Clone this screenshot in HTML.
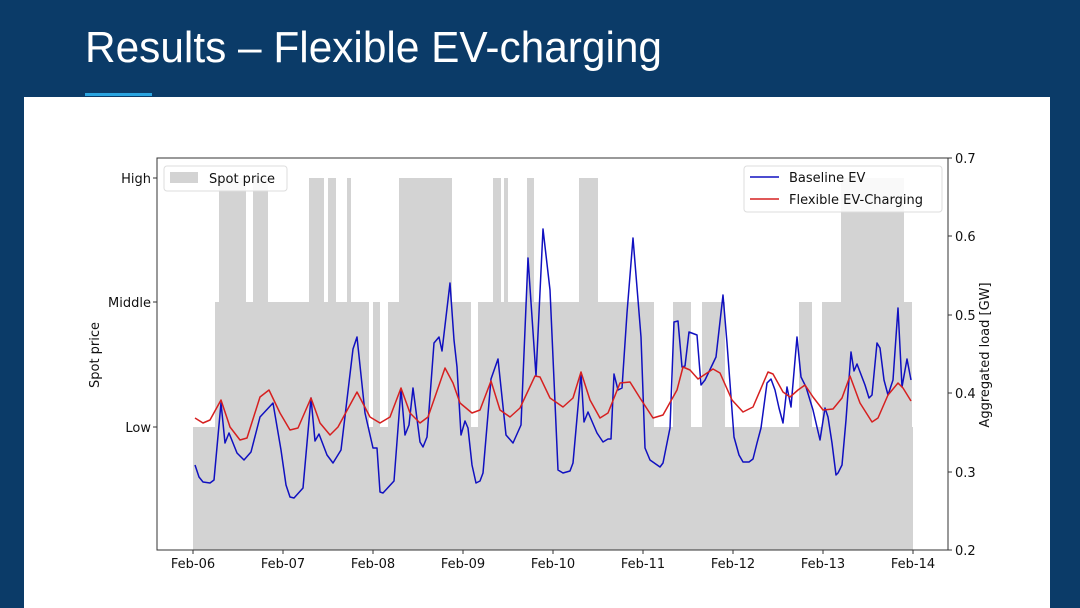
<!DOCTYPE html>
<html><head><meta charset="utf-8"><style>
html,body{margin:0;padding:0;background:#0b3b68;}
svg{display:block;}
text{font-family:"DejaVu Sans","Liberation Sans",sans-serif;}
</style></head><body>
<svg width="1080" height="608" viewBox="0 0 1080 608" xmlns="http://www.w3.org/2000/svg">
<rect x="0" y="0" width="1080" height="608" fill="#0b3b68"/>
<text x="85" y="62" fill="#fff" font-size="44" textLength="577" lengthAdjust="spacingAndGlyphs" style="font-family:'Liberation Sans',sans-serif">Results – Flexible EV-charging</text>
<rect x="85" y="93" width="67" height="3" fill="#2aa4e0"/>
<rect x="24" y="97" width="1026" height="511" fill="#fff"/>
<!-- bars -->
<g fill="#d3d3d3">
<rect x="193" y="427" width="720" height="123"/>
<rect x="215" y="302" width="154" height="125"/>
<rect x="373" y="302" width="7" height="125"/>
<rect x="388" y="302" width="83" height="125"/>
<rect x="478" y="302" width="176" height="125"/>
<rect x="673" y="302" width="18" height="125"/>
<rect x="702" y="302" width="23" height="125"/>
<rect x="799" y="302" width="13" height="125"/>
<rect x="822" y="302" width="90" height="125"/>
<rect x="219" y="178" width="27" height="124"/>
<rect x="253" y="178" width="15" height="124"/>
<rect x="309" y="178" width="15" height="124"/>
<rect x="328" y="178" width="8" height="124"/>
<rect x="347" y="178" width="4" height="124"/>
<rect x="399" y="178" width="53" height="124"/>
<rect x="493" y="178" width="8" height="124"/>
<rect x="504" y="178" width="4" height="124"/>
<rect x="527" y="178" width="7" height="124"/>
<rect x="579" y="178" width="19" height="124"/>
<rect x="841" y="178" width="63" height="124"/>
</g>
<polyline fill="none" stroke="#1010c0" stroke-width="1.5" stroke-linejoin="round" points="195,465 199,477 203,482 210,483 214,480 221,403 225,443 229,433 237,453 244,460 251,452 260,417 273,403 281,450 286,485 290,497 294,498 303,488 311,398 315,441 319,434 327,455 333,463 341,450 353,349 357,337 365,413 373,448 377,448 380,492 383,493 394,481 401,389 405,435 409,425 413,388 420,442 423,447 427,437 434,343 439,337 442,351 450,283 454,340 457,367 461,435 465,421 468,428 472,465 476,483 480,481 483,473 491,379 498,359 506,435 513,443 521,425 528,258 536,376 543,229 550,290 558,470 563,473 570,471 573,463 581,373 584,422 588,412 597,433 603,442 608,439 611,439 614,374 618,390 622,388 627,313 633,238 641,337 645,448 650,460 660,467 663,463 670,428 674,322 678,321 682,367 685,366 689,332 697,335 701,385 705,380 716,357 723,295 727,343 734,437 739,455 743,462 749,462 753,459 757,443 761,428 767,383 771,379 775,390 779,408 783,423 787,387 791,407 797,337 801,377 806,387 813,410 820,440 825,408 828,417 832,443 836,475 838,473 842,465 846,420 851,352 854,371 857,364 865,385 869,398 872,395 877,343 880,348 884,380 888,395 893,380 898,308 902,387 907,359 911,380"/>
<polyline fill="none" stroke="#d62020" stroke-width="1.5" stroke-linejoin="round" points="195,418 203,423 210,420 221,400 230,427 240,440 247,438 260,397 269,390 280,413 290,430 298,428 311,398 320,423 330,435 338,427 357,392 370,417 380,423 390,417 401,388 410,413 420,423 428,417 445,368 453,383 460,403 472,413 480,410 491,381 500,410 510,417 520,408 535,376 540,377 550,398 563,407 573,398 581,372 590,400 600,418 608,413 620,383 630,382 640,398 653,418 663,415 677,390 683,367 690,370 698,379 713,369 720,373 732,400 743,412 753,407 768,372 773,374 783,392 790,397 798,390 805,385 813,397 823,410 833,409 842,398 850,376 860,403 872,422 878,418 888,395 898,383 903,388 911,401"/>
<rect x="157" y="158" width="791" height="392" fill="none" stroke="#333" stroke-width="1"/>
<g stroke="#333" stroke-width="1">
<line x1="193" y1="550" x2="193" y2="554"/><line x1="283" y1="550" x2="283" y2="554"/><line x1="373" y1="550" x2="373" y2="554"/><line x1="463" y1="550" x2="463" y2="554"/><line x1="553" y1="550" x2="553" y2="554"/><line x1="643" y1="550" x2="643" y2="554"/><line x1="733" y1="550" x2="733" y2="554"/><line x1="823" y1="550" x2="823" y2="554"/><line x1="913" y1="550" x2="913" y2="554"/>
<line x1="153" y1="178" x2="157" y2="178"/><line x1="153" y1="302" x2="157" y2="302"/><line x1="153" y1="427" x2="157" y2="427"/>
<line x1="948" y1="158" x2="952" y2="158"/><line x1="948" y1="236" x2="952" y2="236"/><line x1="948" y1="315" x2="952" y2="315"/><line x1="948" y1="393" x2="952" y2="393"/><line x1="948" y1="472" x2="952" y2="472"/><line x1="948" y1="550" x2="952" y2="550"/>
</g>
<g font-size="13" fill="#111" text-anchor="middle">
<text x="193" y="568">Feb-06</text><text x="283" y="568">Feb-07</text><text x="373" y="568">Feb-08</text><text x="463" y="568">Feb-09</text><text x="553" y="568">Feb-10</text><text x="643" y="568">Feb-11</text><text x="733" y="568">Feb-12</text><text x="823" y="568">Feb-13</text><text x="913" y="568">Feb-14</text>
</g>
<g font-size="13" fill="#111" text-anchor="end">
<text x="151" y="183">High</text><text x="151" y="307">Middle</text><text x="151" y="432">Low</text>
</g>
<g font-size="13" fill="#111">
<text x="955" y="163">0.7</text><text x="955" y="241">0.6</text><text x="955" y="320">0.5</text><text x="955" y="398">0.4</text><text x="955" y="477">0.3</text><text x="955" y="555">0.2</text>
</g>
<text transform="translate(99,355) rotate(-90)" font-size="13" fill="#111" text-anchor="middle">Spot price</text>
<text transform="translate(989,355) rotate(-90)" font-size="13" fill="#111" text-anchor="middle">Aggregated load [GW]</text>
<rect x="164" y="166" width="123" height="25" rx="3" fill="#fff" fill-opacity="0.85" stroke="#ddd"/>
<rect x="170" y="172" width="28" height="11" fill="#d3d3d3"/>
<text x="209" y="183" font-size="13" fill="#111">Spot price</text>
<rect x="744" y="166" width="198" height="46" rx="3" fill="#fff" fill-opacity="0.85" stroke="#ddd"/>
<line x1="750" y1="177" x2="779" y2="177" stroke="#1010c0" stroke-width="1.5"/>
<line x1="750" y1="199" x2="779" y2="199" stroke="#d62020" stroke-width="1.5"/>
<text x="789" y="182" font-size="13" fill="#111">Baseline EV</text>
<text x="789" y="204" font-size="13" fill="#111">Flexible EV-Charging</text>
</svg>
</body></html>
